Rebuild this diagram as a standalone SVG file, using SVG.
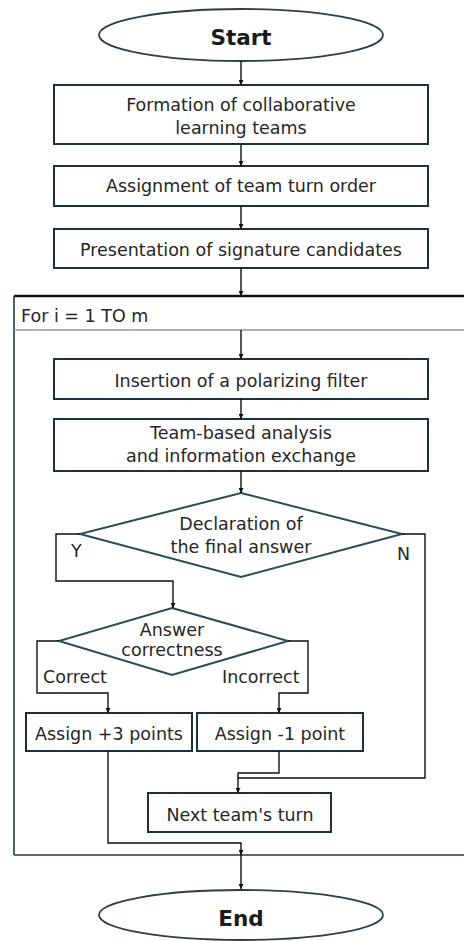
<svg xmlns="http://www.w3.org/2000/svg" width="464" height="941" viewBox="0 0 464 941">
<defs>
<marker id="arr" viewBox="0 0 10 10" refX="10" refY="5" markerWidth="5" markerHeight="5" orient="auto" markerUnits="userSpaceOnUse">
<path d="M0,0 L10,5 L0,10 z" fill="#111"/>
</marker>
</defs>
<style>
.box{fill:#fff;stroke:#1c3140;stroke-width:2}
.dia{fill:#fff;stroke:#2a4c5c;stroke-width:2}
.term{fill:#fff;stroke:#2a3f4c;stroke-width:1.8}
.t{font-family:"DejaVu Sans",sans-serif;font-size:17.5px;fill:#262626;text-anchor:middle}
.tl{font-family:"DejaVu Sans",sans-serif;font-size:17.5px;fill:#262626}
.tb{font-family:"DejaVu Sans",sans-serif;font-size:21.5px;font-weight:bold;fill:#1a1a1a;text-anchor:middle}
.c{fill:none;stroke:#111;stroke-width:1.4}
.ca{fill:none;stroke:#111;stroke-width:1.4;marker-end:url(#arr)}
</style>
<rect width="464" height="941" fill="#fff"/>

<g id="loop">
<line x1="14" y1="296" x2="464" y2="296" stroke="#111" stroke-width="2.5"/>
<line x1="14" y1="296" x2="14" y2="855" stroke="#1f3a47" stroke-width="1.6"/>
<line x1="14" y1="855" x2="464" y2="855" stroke="#1f3a47" stroke-width="1.6"/>
<line x1="14" y1="330" x2="464" y2="330" stroke="#9a9a9a" stroke-width="1.5"/>
<text class="tl" x="21" y="322" font-size="16">For i = 1 TO m</text>
</g>

<g id="start">
<ellipse class="term" cx="241" cy="35" rx="142" ry="26"/>
<text class="tb" x="241" y="45">Start</text>
</g>

<g id="formation">
<rect class="box" x="54" y="85" width="374" height="59"/>
<text class="t" x="241" y="111">Formation of collaborative</text>
<text class="t" x="241" y="134">learning teams</text>
</g>

<g id="assignment">
<rect class="box" x="54" y="166" width="374" height="40"/>
<text class="t" x="241" y="192">Assignment of team turn order</text>
</g>

<g id="presentation">
<rect class="box" x="54" y="229" width="374" height="39"/>
<text class="t" x="241" y="256">Presentation of signature candidates</text>
</g>

<g id="insertion">
<rect class="box" x="54" y="359" width="374" height="40"/>
<text class="t" x="241" y="387">Insertion of a polarizing filter</text>
</g>

<g id="analysis">
<rect class="box" x="54" y="419" width="374" height="52"/>
<text class="t" x="241" y="439">Team-based analysis</text>
<text class="t" x="241" y="462">and information exchange</text>
</g>

<g id="declaration">
<polygon class="dia" points="241,493 402,534 241,577 80,534"/>
<text class="t" x="241" y="530">Declaration of</text>
<text class="t" x="241" y="553">the final answer</text>
</g>

<g id="correctness">
<polygon class="dia" points="172,608 288,641 172,675 59,641"/>
<text class="t" x="172" y="636">Answer</text>
<text class="t" x="172" y="656">correctness</text>
</g>

<g id="plus3">
<rect class="box" x="26" y="713" width="166" height="38"/>
<text class="t" x="109" y="740">Assign +3 points</text>
</g>

<g id="minus1">
<rect class="box" x="197" y="713" width="166" height="38"/>
<text class="t" x="280" y="740">Assign -1 point</text>
</g>

<g id="nextturn">
<rect class="box" x="148" y="793" width="183" height="39"/>
<text class="t" x="240" y="821">Next team's turn</text>
</g>

<g id="end">
<ellipse class="term" cx="241" cy="915" rx="142" ry="25"/>
<text class="tb" x="241" y="926">End</text>
</g>

<g id="connectors">
<path class="ca" d="M241,61 V85"/>
<path class="ca" d="M241,144 V166"/>
<path class="ca" d="M241,206 V229"/>
<path class="ca" d="M241,268 V296"/>
<path class="ca" d="M241,330 V359"/>
<path class="ca" d="M241,399 V419"/>
<path class="ca" d="M241,471 V493"/>
<path class="ca" d="M80,534 H56 V581 H173 V608"/>
<path class="ca" d="M402,534 H425 V778 H238 V793"/>
<path class="ca" d="M59,641 H37 V693 H108 V713"/>
<path class="ca" d="M288,641 H308 V693 H279 V713"/>
<path class="c" d="M279,751 V773 H238 V778"/>
<path class="ca" d="M108,751 V843 H241 V855"/>
<path class="ca" d="M241,855 V889"/>
<text class="tl" x="71" y="557">Y</text>
<text class="tl" x="397" y="560">N</text>
<text class="tl" x="43" y="683">Correct</text>
<text class="tl" x="222" y="683">Incorrect</text>
</g>
</svg>
